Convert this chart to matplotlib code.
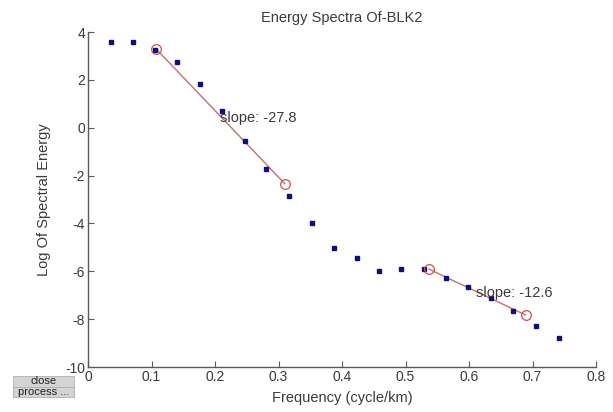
import numpy as np
import matplotlib.pyplot as plt
from matplotlib.patches import Rectangle

plt.rcParams['font.family'] = ['Liberation Sans', 'DejaVu Sans']
plt.rcParams['axes.unicode_minus'] = False

# spectrum samples (frequency in cycle/km, log energy)
freq = [0.0356, 0.0705, 0.106, 0.140, 0.176, 0.2115, 0.2465, 0.281, 0.316, 0.353,
        0.3875, 0.423, 0.458, 0.493, 0.5285, 0.564, 0.599, 0.634, 0.6696, 0.705, 0.741]
log_energy = [3.59, 3.59, 3.25, 2.73, 1.83, 0.70, -0.55, -1.72, -2.87, -3.99,
              -5.04, -5.45, -5.99, -5.91, -5.92, -6.27, -6.64, -7.12, -7.66, -8.29, -8.77]

# fitted segments: start point, end frequency, slope
seg1_start = (0.107, 3.30)
seg1_end_x = 0.310
seg1_slope = -27.8
seg2_start = (0.537, -5.91)
seg2_end_x = 0.689
seg2_slope = -12.6

text_col = '#3a3a3a'
axis_col = '#5a5a5a'

fig = plt.figure(figsize=(6.13, 4.12), dpi=100)
ax = fig.add_axes([0.1436, 0.1092, 0.8287, 0.8131])

ax.plot(freq, log_energy, 's', color='#10107a', markersize=2.2, zorder=3)

for (x0, y0), x1, s, lab_xy in [(seg1_start, seg1_end_x, seg1_slope, (0.2085, 0.42)),
                                (seg2_start, seg2_end_x, seg2_slope, (0.611, -6.92))]:
    y1 = y0 + s * (x1 - x0)
    ax.plot([x0, x1], [y0, y1], '-', color='#c07070', lw=1.0, zorder=2)
    ax.plot([x0, x1], [y0, y1], 'o', mfc='none', mec='#d05050', markersize=7,
            mew=0.9, zorder=4)
    ax.text(lab_xy[0], lab_xy[1], f'slope: {s}', fontsize=10.5, color=text_col,
            va='center', ha='left', zorder=5)

ax.set_xlim(0, 0.8)
ax.set_ylim(-10, 4)
ax.set_xticks(np.arange(0, 0.81, 0.1))
ax.set_xticklabels(['0', '0.1', '0.2', '0.3', '0.4', '0.5', '0.6', '0.7', '0.8'])
ax.set_yticks(np.arange(-10, 5, 2))
for side in ['top', 'right']:
    ax.spines[side].set_visible(False)
for side in ['left', 'bottom']:
    ax.spines[side].set_color(axis_col)
    ax.spines[side].set_linewidth(1.0)
ax.tick_params(direction='in', length=4, color=axis_col, labelcolor=text_col,
               labelsize=10, pad=2)

ax.set_title('Energy Spectra Of-BLK2', fontsize=10.5, color=text_col, pad=7)
ax.set_xlabel('Frequency (cycle/km)', fontsize=10.5, color=text_col, labelpad=5)
ax.set_ylabel('Log Of Spectral Energy', fontsize=10.5, color=text_col, labelpad=10)

# gui buttons in lower-left corner
W, H = 613, 412
for (y0, y1, label) in [(376, 386.5, 'close'), (386.5, 397, 'process ...')]:
    fig.patches.append(Rectangle((13 / W, 1 - y1 / H), 61 / W, (y1 - y0) / H,
                                 transform=fig.transFigure, facecolor='#d4d4d4',
                                 edgecolor='#b0b0b0', lw=0.6))
    fig.text(43.5 / W, 1 - (y0 + y1) / 2 / H, label, fontsize=8, color='#222222',
             ha='center', va='center')

fig.savefig('out.png', dpi=100, facecolor='white')
